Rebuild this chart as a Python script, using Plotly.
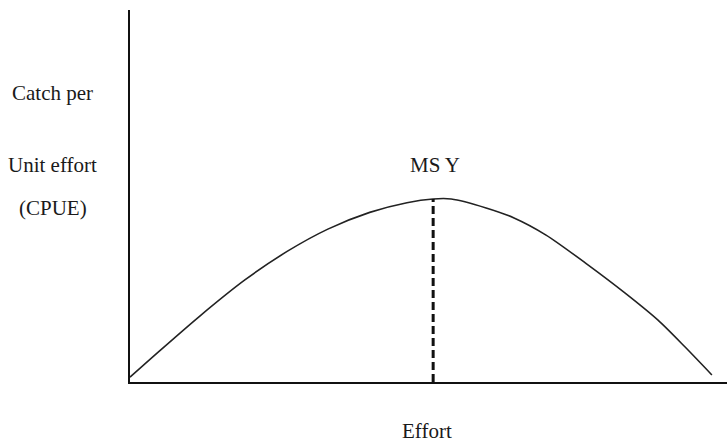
import plotly.graph_objects as go

# Effort (x) and CPUE (y)
effort = [0, 4.6, 11.9, 19.8, 27.0, 34.0, 41.2, 47.6, 52.1, 55.2, 61.2, 66.0, 71.5, 78.7, 85.1, 90.7, 95.4, 100]
cpue = [1.3, 7.7, 17.6, 27.5, 35.1, 41.1, 45.6, 48.2, 49.2, 49.2, 46.8, 44.1, 39.5, 31.5, 23.9, 16.7, 9.4, 1.9]

msy_effort = 52.1
msy_cpue = 49.2

y_labels = ["Catch per", "Unit effort", "(CPUE)"]
x_label = "Effort"
msy_label = "MS Y"

FONT = "Liberation Serif"
FS = 21

fig = go.Figure()
fig.add_trace(go.Scatter(
    x=effort, y=cpue, mode="lines",
    line=dict(color="#222222", width=1.6, shape="spline", smoothing=0.8),
    hoverinfo="skip", showlegend=False,
))
fig.add_trace(go.Scatter(
    x=[msy_effort, msy_effort], y=[0, msy_cpue], mode="lines",
    line=dict(color="#111111", width=3, dash="8px,4px"),
    hoverinfo="skip", showlegend=False,
))

annotations = []
for txt, yp in zip(y_labels, [0.777, 0.583, 0.468]):
    annotations.append(dict(text=txt, xref="paper", yref="paper", x=-0.129, y=yp,
                            showarrow=False, xanchor="center", yanchor="middle",
                            font=dict(family=FONT, size=FS, color="#1a1a1a")))
annotations.append(dict(text=msy_label, xref="x", yref="y", x=msy_effort + 0.4, y=58.3,
                        showarrow=False, xanchor="center", yanchor="middle",
                        font=dict(family=FONT, size=FS, color="#1a1a1a")))
annotations.append(dict(text=x_label, xref="paper", yref="paper", x=0.4975, y=-0.132,
                        showarrow=False, xanchor="center", yanchor="middle",
                        font=dict(family=FONT, size=FS, color="#1a1a1a")))

fig.update_layout(
    width=727, height=445,
    margin=dict(l=130, r=0, t=10, b=63),
    paper_bgcolor="white", plot_bgcolor="white",
    annotations=annotations,
    xaxis=dict(range=[0, 102.6], showline=True, linecolor="#111111", linewidth=2,
               showgrid=False, zeroline=False, showticklabels=False, ticks=""),
    yaxis=dict(range=[0, 100], showline=True, linecolor="#111111", linewidth=2,
               showgrid=False, zeroline=False, showticklabels=False, ticks=""),
)

fig.write_html("out.html", config={"displayModeBar": False},
               post_script="document.body.style.margin='0';")
